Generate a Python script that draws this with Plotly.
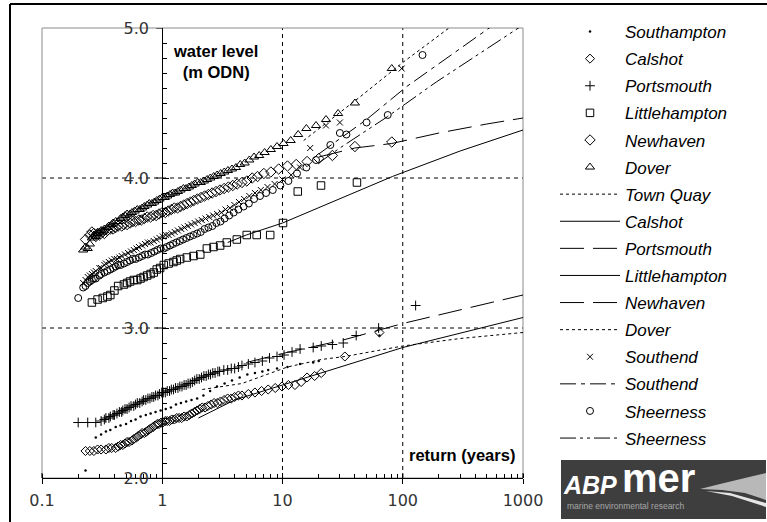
import plotly.graph_objects as go

# ---------------------------------------------------------------------------
# Observed extreme water levels: return period (years) and level (m ODN)
# ---------------------------------------------------------------------------
southampton_x = [0.23, 0.28, 0.31, 0.34, 0.37, 0.41, 0.45, 0.50, 0.55, 0.60, 0.66, 0.73, 0.80, 0.88,
                 0.97, 1.07, 1.18, 1.3, 1.43, 1.58, 1.75, 1.95, 2.2, 2.5, 2.85, 3.3, 3.8, 4.4, 5.1,
                 5.9, 6.8, 7.6, 9, 11, 14, 18, 20, 64]
southampton_y = [2.05, 2.27, 2.29, 2.31, 2.32, 2.34, 2.35, 2.36, 2.38, 2.39, 2.41, 2.42, 2.43, 2.44,
                 2.45, 2.46, 2.47, 2.49, 2.50, 2.51, 2.52, 2.53, 2.55, 2.58, 2.61, 2.63, 2.65, 2.67,
                 2.69, 2.70, 2.71, 2.72, 2.73, 2.74, 2.76, 2.77, 2.78, 2.95]

calshot_x = [0.23, 0.25, 0.27, 0.29, 0.31, 0.34, 0.36, 0.38, 0.41, 0.43, 0.45, 0.47, 0.49, 0.51, 0.53,
             0.56, 0.58, 0.61, 0.63, 0.66, 0.68, 0.71, 0.74, 0.77, 0.80, 0.84, 0.87, 0.91, 0.94, 0.98,
             1.01, 1.06, 1.1, 1.15, 1.2, 1.26, 1.32, 1.38, 1.45, 1.52, 1.6, 1.68, 1.76, 1.85, 1.95,
             2.05, 2.15, 2.27, 2.4, 2.55, 2.7, 2.87, 3.05, 3.27, 3.5, 3.75, 4.0, 4.3, 4.6, 5.2, 5.9,
             6.7, 7.6, 8.7, 9.9, 11.2, 12.7, 14.3, 16, 18.5, 21, 33, 64]
calshot_y = [2.18, 2.18, 2.18, 2.19, 2.19, 2.19, 2.20, 2.20, 2.20, 2.21, 2.22, 2.22, 2.23, 2.24, 2.24,
             2.25, 2.26, 2.27, 2.28, 2.29, 2.30, 2.30, 2.31, 2.32, 2.33, 2.34, 2.35, 2.36, 2.36, 2.37,
             2.37, 2.38, 2.38, 2.38, 2.39, 2.39, 2.40, 2.40, 2.40, 2.41, 2.41, 2.42, 2.43, 2.44, 2.45,
             2.46, 2.47, 2.47, 2.48, 2.49, 2.50, 2.50, 2.51, 2.52, 2.53, 2.53, 2.54, 2.55, 2.55, 2.56,
             2.57, 2.58, 2.59, 2.60, 2.61, 2.62, 2.62, 2.64, 2.67, 2.68, 2.70, 2.81, 2.97]

portsmouth_x = [0.20, 0.24, 0.28, 0.31, 0.33, 0.34, 0.36, 0.37, 0.39, 0.40, 0.42, 0.44, 0.46, 0.47,
                0.49, 0.51, 0.53, 0.55, 0.58, 0.60, 0.62, 0.65, 0.68, 0.70, 0.73, 0.76, 0.79, 0.82,
                0.85, 0.88, 0.92, 0.95, 0.99, 1.02, 1.06, 1.10, 1.15, 1.19, 1.24, 1.29, 1.35, 1.40,
                1.46, 1.52, 1.58, 1.64, 1.71, 1.78, 1.86, 1.94, 2.03, 2.12, 2.22, 2.32, 2.42, 2.52,
                2.63, 2.75, 2.9, 3.0, 3.25, 3.5, 3.75, 4.0, 4.3, 4.6, 5.2, 5.9, 6.8, 7.8, 9.0, 10.3,
                12, 14, 18, 21, 26, 32, 41, 63, 128]
portsmouth_y = [2.37, 2.37, 2.37, 2.38, 2.39, 2.40, 2.40, 2.41, 2.42, 2.42, 2.43, 2.44, 2.44, 2.45,
                2.46, 2.46, 2.47, 2.48, 2.48, 2.49, 2.50, 2.50, 2.51, 2.52, 2.52, 2.53, 2.53, 2.54,
                2.54, 2.55, 2.55, 2.56, 2.57, 2.57, 2.57, 2.58, 2.58, 2.59, 2.59, 2.60, 2.60, 2.61,
                2.61, 2.62, 2.62, 2.63, 2.63, 2.64, 2.65, 2.66, 2.66, 2.67, 2.68, 2.68, 2.69, 2.69,
                2.70, 2.70, 2.71, 2.71, 2.72, 2.72, 2.73, 2.73, 2.74, 2.75, 2.76, 2.77, 2.78, 2.80,
                2.81, 2.82, 2.84, 2.86, 2.87, 2.88, 2.89, 2.90, 2.95, 3.00, 3.15]

littlehampton_x = [0.26, 0.29, 0.32, 0.35, 0.37, 0.40, 0.43, 0.48, 0.51, 0.54, 0.58, 0.62, 0.66, 0.70,
                   0.75, 0.80, 0.85, 0.90, 0.96, 1.03, 1.13, 1.24, 1.32, 1.41, 1.60, 1.82, 2.07, 2.35,
                   2.67, 3.03, 3.44, 4.17, 5.04, 6.1, 7.9, 10.1, 13.4, 20.9, 41.6]
littlehampton_y = [3.17, 3.19, 3.20, 3.21, 3.22, 3.25, 3.28, 3.29, 3.30, 3.31, 3.32, 3.32, 3.33, 3.34,
                   3.35, 3.36, 3.37, 3.39, 3.40, 3.42, 3.43, 3.44, 3.45, 3.46, 3.47, 3.48, 3.49, 3.53,
                   3.54, 3.55, 3.57, 3.59, 3.62, 3.62, 3.62, 3.70, 3.91, 3.95, 3.97]

newhaven_x = [0.23, 0.25, 0.26, 0.27, 0.28, 0.29, 0.30, 0.32, 0.33, 0.35, 0.37, 0.39, 0.41, 0.43, 0.46,
              0.48, 0.51, 0.54, 0.57, 0.60, 0.64, 0.67, 0.71, 0.75, 0.80, 0.84, 0.89, 0.94, 1.0, 1.06,
              1.12, 1.19, 1.26, 1.34, 1.42, 1.51, 1.61, 1.72, 1.83, 1.96, 2.1, 2.25, 2.42, 2.6, 2.8,
              3.02, 3.27, 3.55, 3.86, 4.2, 4.6, 5.05, 5.6, 6.2, 7.0, 8.0, 9.3, 11, 13, 16, 20, 26, 40, 81]
newhaven_y = [3.59, 3.62, 3.64, 3.63, 3.61, 3.63, 3.62, 3.64, 3.63, 3.65, 3.66, 3.66, 3.67, 3.68, 3.68,
              3.69, 3.69, 3.70, 3.71, 3.71, 3.72, 3.72, 3.73, 3.74, 3.74, 3.75, 3.75, 3.76, 3.77, 3.77,
              3.78, 3.79, 3.80, 3.80, 3.81, 3.82, 3.83, 3.84, 3.85, 3.86, 3.87, 3.88, 3.89, 3.90, 3.91,
              3.92, 3.93, 3.94, 3.95, 3.96, 3.97, 3.98, 4.00, 4.01, 4.03, 4.04, 4.06, 4.08, 4.09, 4.11,
              4.13, 4.15, 4.21, 4.24]

dover_x = [0.22, 0.23, 0.24, 0.25, 0.26, 0.27, 0.28, 0.29, 0.30, 0.31, 0.32, 0.33, 0.35, 0.36, 0.38,
           0.39, 0.41, 0.43, 0.45, 0.47, 0.49, 0.51, 0.54, 0.56, 0.59, 0.62, 0.65, 0.68, 0.71, 0.75,
           0.78, 0.82, 0.86, 0.90, 0.95, 1.0, 1.05, 1.1, 1.16, 1.22, 1.28, 1.35, 1.42, 1.5, 1.58,
           1.67, 1.76, 1.86, 1.97, 2.09, 2.22, 2.36, 2.51, 2.68, 2.86, 3.06, 3.28, 3.52, 3.8, 4.1,
           4.45, 4.85, 5.3, 5.8, 6.4, 7.1, 8.0, 9.0, 10.2, 11.7, 13.5, 15.8, 19, 23, 29, 40, 81]
dover_y = [3.52, 3.54, 3.53, 3.56, 3.60, 3.62, 3.61, 3.63, 3.64, 3.65, 3.64, 3.66, 3.67, 3.68, 3.69,
           3.70, 3.71, 3.71, 3.73, 3.74, 3.75, 3.76, 3.76, 3.77, 3.78, 3.79, 3.79, 3.80, 3.81, 3.82,
           3.83, 3.83, 3.84, 3.85, 3.86, 3.87, 3.87, 3.88, 3.89, 3.90, 3.90, 3.91, 3.92, 3.93, 3.93,
           3.94, 3.95, 3.96, 3.97, 3.97, 3.98, 3.99, 4.00, 4.01, 4.02, 4.03, 4.04, 4.05, 4.06, 4.07,
           4.09, 4.10, 4.12, 4.14, 4.15, 4.17, 4.19, 4.21, 4.23, 4.25, 4.29, 4.33, 4.35, 4.39, 4.43,
           4.50, 4.73]

southend_x = [0.22, 0.23, 0.24, 0.25, 0.26, 0.27, 0.28, 0.30, 0.31, 0.33, 0.34, 0.36, 0.38, 0.40, 0.42,
              0.44, 0.46, 0.49, 0.52, 0.55, 0.58, 0.61, 0.64, 0.68, 0.72, 0.76, 0.80, 0.85, 0.90, 0.95,
              1.01, 1.07, 1.13, 1.2, 1.27, 1.35, 1.44, 1.53, 1.63, 1.74, 1.86, 1.99, 2.13, 2.29, 2.46,
              2.65, 2.86, 3.1, 3.36, 3.65, 3.98, 4.35, 4.8, 5.3, 5.9, 6.6, 7.5, 8.6, 10, 11.8, 14, 17,
              23, 30, 98]
southend_y = [3.30, 3.32, 3.34, 3.35, 3.36, 3.37, 3.38, 3.40, 3.40, 3.42, 3.43, 3.44, 3.45, 3.46, 3.46,
              3.47, 3.48, 3.49, 3.50, 3.51, 3.52, 3.53, 3.54, 3.55, 3.56, 3.57, 3.57, 3.58, 3.59, 3.60,
              3.61, 3.62, 3.62, 3.63, 3.64, 3.65, 3.66, 3.67, 3.68, 3.69, 3.70, 3.71, 3.72, 3.73, 3.74,
              3.75, 3.76, 3.77, 3.79, 3.80, 3.82, 3.84, 3.86, 3.88, 3.90, 3.92, 3.94, 3.96, 3.99, 4.02,
              4.07, 4.20, 4.35, 4.37, 4.73]

sheerness_x = [0.20, 0.22, 0.23, 0.24, 0.25, 0.26, 0.27, 0.28, 0.30, 0.31, 0.33, 0.35, 0.37, 0.39,
               0.41, 0.43, 0.45, 0.48, 0.51, 0.54, 0.57, 0.60, 0.64, 0.68, 0.72, 0.76, 0.81, 0.86,
               0.91, 0.97, 1.03, 1.09, 1.16, 1.23, 1.31, 1.4, 1.49, 1.59, 1.7, 1.82, 1.95, 2.09, 2.25,
               2.42, 2.61, 2.82, 3.05, 3.3, 3.6, 3.93, 4.3, 4.75, 5.25, 5.8, 6.5, 7.3, 8.3, 9.6, 11.2,
               13.2, 15.8, 19, 25, 30, 34, 50, 75, 146]
sheerness_y = [3.20, 3.27, 3.28, 3.30, 3.31, 3.32, 3.33, 3.33, 3.35, 3.36, 3.37, 3.38, 3.39, 3.40,
               3.41, 3.42, 3.42, 3.43, 3.44, 3.45, 3.46, 3.46, 3.47, 3.48, 3.49, 3.49, 3.50, 3.51,
               3.52, 3.53, 3.53, 3.54, 3.55, 3.56, 3.57, 3.58, 3.59, 3.60, 3.61, 3.62, 3.63, 3.64, 3.66,
               3.67, 3.68, 3.70, 3.71, 3.73, 3.75, 3.77, 3.79, 3.81, 3.83, 3.86, 3.88, 3.90, 3.92, 3.95,
               3.98, 4.03, 4.07, 4.12, 4.22, 4.30, 4.29, 4.37, 4.42, 4.82]

# ---------------------------------------------------------------------------
# Fitted extreme-value curves
# ---------------------------------------------------------------------------
townquay_fit_x = [2.15, 4.6, 11, 21, 33, 100, 300, 1000]
townquay_fit_y = [2.59, 2.63, 2.74, 2.79, 2.81, 2.88, 2.93, 2.97]
calshot_fit_x = [2, 4, 10, 21, 100, 1000]
calshot_fit_y = [2.40, 2.52, 2.62, 2.70, 2.87, 3.07]
portsmouth_fit_x = [5, 10, 32, 100, 1000]
portsmouth_fit_y = [2.77, 2.83, 2.92, 3.03, 3.22]
littlehampton_fit_x = [3.5, 5, 10, 30, 82, 300, 1000]
littlehampton_fit_y = [3.57, 3.62, 3.70, 3.86, 4.01, 4.18, 4.32]
newhaven_fit_x = [20, 40, 81, 200, 500, 1000]
newhaven_fit_y = [4.14, 4.20, 4.23, 4.30, 4.36, 4.40]
dover_fit_x = [15, 44, 100, 245, 400]
dover_fit_y = [4.25, 4.54, 4.77, 5.00, 5.13]
southend_fit_x = [20, 50, 108, 560, 1000]
southend_fit_y = [4.16, 4.39, 4.61, 5.02, 5.16]
sheerness_fit_x = [20, 30, 75, 190, 1000]
sheerness_fit_y = [4.10, 4.20, 4.41, 4.64, 5.02]

x_tick_vals = [0.1, 1, 10, 100, 1000]
x_tick_text = ["0.1", "1", "10", "100", "1000"]
y_tick_vals = [2.0, 3.0, 4.0, 5.0]
y_tick_text = ["2.0", "3.0", "4.0", "5.0"]

# ---------------------------------------------------------------------------
# Figure geometry (pixels)
# ---------------------------------------------------------------------------
W, H = 767, 522
L, R, T, B = 42, 244, 28, 44
PW, PH = W - L - R, H - T - B


def px(xp):
    return (xp - L) / PW


def py(yp):
    return (H - B - yp) / PH


def path(points):
    s = "M " + " L ".join(f"{px(a):.4f},{py(b):.4f}" for a, b in points)
    return s + " Z"


fig = go.Figure()

BLK = "black"


def markers(name, x, y, symbol, size, width=1.0):
    fig.add_trace(go.Scatter(
        x=x, y=y, name=name, mode="markers", legendgroup=f"{name}-{symbol}",
        marker=dict(symbol=symbol, size=size, color=BLK, line=dict(color=BLK, width=width)),
    ))


def curve(name, x, y, dash):
    fig.add_trace(go.Scatter(
        x=x, y=y, name=name, mode="lines", legendgroup=f"{name}-{dash}",
        line=dict(color=BLK, width=1, dash=dash),
    ))


markers("Southampton", southampton_x, southampton_y, "circle", 2.5, 0)
markers("Calshot", calshot_x, calshot_y, "diamond-open", 7)
markers("Portsmouth", portsmouth_x, portsmouth_y, "cross-thin", 7)
markers("Littlehampton", littlehampton_x, littlehampton_y, "square-open", 7.5)
markers("Newhaven", newhaven_x, newhaven_y, "diamond-open", 8)
markers("Dover", dover_x, dover_y, "triangle-up-open", 8)
curve("Town Quay", townquay_fit_x, townquay_fit_y, "3px,3px")
curve("Calshot", calshot_fit_x, calshot_fit_y, "solid")
curve("Portsmouth", portsmouth_fit_x, portsmouth_fit_y, "24px,9px")
curve("Littlehampton", littlehampton_fit_x, littlehampton_fit_y, "solid")
curve("Newhaven", newhaven_fit_x, newhaven_fit_y, "24px,9px")
curve("Dover", dover_fit_x, dover_fit_y, "3px,3px")
markers("Southend", southend_x, southend_y, "x-thin", 6)
curve("Southend", southend_fit_x, southend_fit_y, "16px,5px,4px,5px")
markers("Sheerness", sheerness_x, sheerness_y, "circle-open", 7)
curve("Sheerness", sheerness_fit_x, sheerness_fit_y, "16px,4px,3px,4px,3px,4px")

shapes = []
# dashed reference grid
for v in (3.0, 4.0):
    shapes.append(dict(type="line", xref="paper", yref="y", x0=0, x1=1, y0=v, y1=v,
                       line=dict(color=BLK, width=1, dash="4px,4px"), layer="below"))
for v in (0.5, 0.75):
    shapes.append(dict(type="line", xref="paper", yref="paper", x0=v, x1=v, y0=0, y1=1,
                       line=dict(color=BLK, width=1, dash="4px,4px"), layer="below"))
# plot-area frame
shapes.append(dict(type="rect", xref="paper", yref="paper", x0=0, x1=1, y0=0, y1=1,
                   line=dict(color="#8a8a8a", width=1), layer="between"))
# crossing parts of the major ticks
for v in (3.0, 4.0, 5.0):
    shapes.append(dict(type="line", xref="paper", yref="y", xsizemode="pixel", xanchor=0.25,
                       x0=-6, x1=0, y0=v, y1=v, line=dict(color=BLK, width=1)))
for v in (0.0, 0.5, 0.75, 1.0):
    shapes.append(dict(type="line", xref="paper", yref="paper", ysizemode="pixel", yanchor=0,
                       x0=v, x1=v, y0=0, y1=5, line=dict(color=BLK, width=1)))
# outer border
shapes.append(dict(type="line", xref="paper", yref="paper", x0=px(10), x1=px(770), y0=py(4), y1=py(4),
                   line=dict(color=BLK, width=2)))
shapes.append(dict(type="line", xref="paper", yref="paper", x0=px(10), x1=px(10), y0=py(4), y1=py(525),
                   line=dict(color=BLK, width=2)))
# ABP mer badge
shapes.append(dict(type="rect", xref="paper", yref="paper", x0=px(561), x1=px(766), y0=py(460), y1=py(519),
                   fillcolor="#3e3e3e", line=dict(width=0)))
shapes.append(dict(type="path", xref="paper", yref="paper",
                   path=path([(700, 489), (720, 484), (745, 478), (766, 473), (766, 500), (745, 493),
                              (722, 490)]),
                   fillcolor="#b8b8b8", line=dict(width=0)))
shapes.append(dict(type="path", xref="paper", yref="paper",
                   path=path([(706, 491), (730, 493), (766, 503), (766, 507), (732, 496)]),
                   fillcolor="#e6e6e6", line=dict(width=0)))

annotations = [
    dict(text="<b>water level<br>(m ODN)</b>", xref="paper", yref="paper", x=px(215), y=py(61),
         xanchor="center", yanchor="middle", showarrow=False, align="center",
         font=dict(family="Liberation Sans, Arial", size=16.5, color=BLK)),
    dict(text="<b>return (years)</b>", xref="paper", yref="paper", x=px(462), y=py(455),
         xanchor="center", yanchor="middle", showarrow=False,
         font=dict(family="Liberation Sans, Arial", size=16.5, color=BLK)),
    dict(text="<b><i>ABP</i></b>", xref="paper", yref="paper", x=px(590), y=py(485),
         xanchor="center", yanchor="middle", showarrow=False,
         font=dict(family="Liberation Sans, Arial", size=25, color="white")),
    dict(text="<b>mer</b>", xref="paper", yref="paper", x=px(658), y=py(478),
         xanchor="center", yanchor="middle", showarrow=False,
         font=dict(family="Liberation Sans, Arial", size=40, color="white")),
    dict(text="marine environmental research", xref="paper", yref="paper", x=px(565), y=py(506),
         xanchor="left", yanchor="middle", showarrow=False,
         font=dict(family="Liberation Sans, Arial", size=8.5, color="#a8a8a8")),
]

tick_font = dict(family="DejaVu Sans, Arial", size=16, color="#333333")

fig.update_layout(
    width=W, height=H, autosize=False,
    margin=dict(l=L, r=R, t=T, b=B, pad=0),
    paper_bgcolor="white", plot_bgcolor="white",
    shapes=shapes, annotations=annotations,
    showlegend=True,
    legend=dict(x=px(555), y=py(14), xanchor="left", yanchor="top",
                font=dict(family="Liberation Sans, Arial", size=17, color=BLK, style="italic"),
                tracegroupgap=2, itemwidth=60, bgcolor="rgba(0,0,0,0)", borderwidth=0,
                traceorder="grouped", maxheight=600),
    xaxis=dict(type="log", range=[-1, 3], tickmode="array", tickvals=x_tick_vals, ticktext=x_tick_text,
               showline=True, linecolor=BLK, linewidth=1, ticks="outside", ticklen=5, tickcolor=BLK,
               minor=dict(ticks="inside", ticklen=4, tickcolor=BLK, dtick="D1", showgrid=False),
               showgrid=False, zeroline=False, anchor="y", tickfont=tick_font, ticklabelstandoff=3),
    yaxis=dict(range=[2, 5], tickmode="array", tickvals=y_tick_vals, ticktext=y_tick_text,
               anchor="free", position=0.25, showline=True, linecolor=BLK, linewidth=1,
               ticks="inside", ticklen=6, tickcolor=BLK,
               minor=dict(ticks="inside", ticklen=4, tickcolor=BLK, dtick=0.1, showgrid=False),
               showgrid=False, zeroline=False, tickfont=tick_font, ticklabelstandoff=10),
)

fig.write_html("out.html")
